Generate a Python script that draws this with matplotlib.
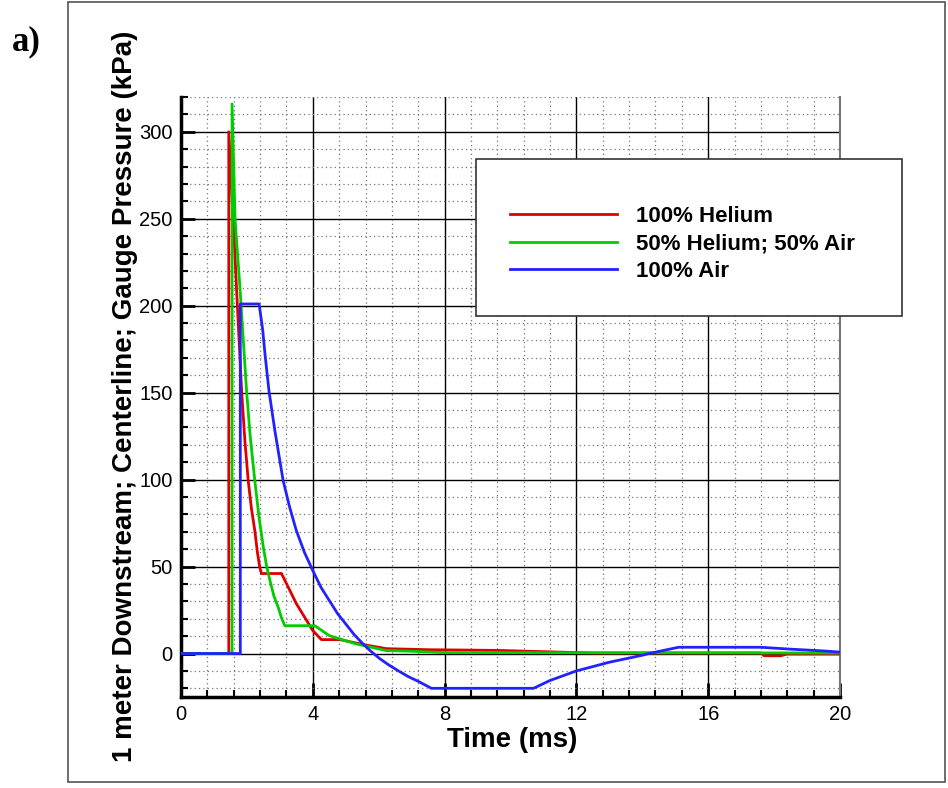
import numpy as np
import matplotlib
matplotlib.use('Agg')
import matplotlib.pyplot as plt
from matplotlib.patches import Rectangle
from matplotlib.ticker import MultipleLocator

# ---- data (time in ms, gauge pressure in kPa) ----
t_he = [0, 1.45, 1.45, 1.64, 1.69, 1.84, 1.94, 2.04, 2.14, 2.24, 2.32, 2.39, 2.44, 3.05,
        3.5, 4.0, 4.26, 4.82, 5.52, 6.23, 7.5, 9.6, 11.7, 12.5, 17.6, 17.7, 18.2, 18.4, 20]
p_he = [0, 0, 300, 228, 208, 151, 122, 99.4, 83, 70.7, 58, 49.6, 46, 46,
        28.7, 13.2, 8, 8, 5.2, 2.8, 2.2, 1.8, 0.7, 0.3, 0.3, -1.3, -1.3, -0.3, -0.3]

t_mix = [0, 1.55, 1.55, 1.64, 1.79, 1.99, 2.1, 2.24, 2.37, 2.5, 2.6, 2.7, 2.82, 2.95,
         3.05, 3.15, 4.06, 4.5, 5.3, 6.23, 7.0, 8.0, 20]
p_mix = [0, 0, 316, 250, 210, 151, 125, 99.4, 78, 61, 50, 42, 33, 26.6,
         20.5, 16, 16, 10.3, 5.6, 1.7, 1.3, 0.5, 0.3]

t_air = [0, 1.80, 1.80, 2.37, 2.48, 2.55, 2.67, 2.85, 3.1, 3.3, 3.5, 3.75, 4.0, 4.25,
         4.5, 4.75, 5.0, 5.25, 5.52, 5.75, 6.03, 6.3, 6.6, 6.9, 7.2, 7.6, 10.7, 11.2,
         12.0, 13.0, 14.0, 14.2, 15.1, 17.6, 18.5, 19.5, 20]
p_air = [0, 0, 201, 201, 186, 172, 151, 128, 99.4, 84, 70.7, 58, 47.7, 38,
         30.5, 23, 17, 11, 5.6, 1.5, -2.9, -6.5, -10, -13.3, -16, -20, -20, -15.5,
         -10, -5, -1, 0, 3.6, 3.6, 2.5, 1.5, 0.8]

labels = ['100% Helium', '50% Helium; 50% Air', '100% Air']
colors = ['#dd0000', '#00cc00', '#2222ff']

W, H = 948, 788
fig = plt.figure(figsize=(W/100, H/100), dpi=100)
ax = fig.add_axes([181/W, 1-697/H, (840-181)/W, (697-97)/H])

sans = 'Liberation Sans'
lines = []
for t, p, c in zip([t_he, t_mix, t_air], [p_he, p_mix, p_air], colors):
    l, = ax.plot(t, p, color=c, lw=2.0, zorder=3)
    lines.append(l)

ax.set_xlim(0, 20)
ax.set_ylim(-25, 320)
ax.xaxis.set_major_locator(MultipleLocator(4))
ax.xaxis.set_minor_locator(MultipleLocator(0.8))
ax.yaxis.set_major_locator(MultipleLocator(50))
ax.yaxis.set_minor_locator(MultipleLocator(10))

ax.grid(which='major', color='black', lw=1.0, ls='-')
ax.grid(which='minor', color='#777777', lw=0.9, ls=(0, (1, 2.5)))
ax.set_axisbelow(True)

ax.spines['top'].set_visible(False)
ax.spines['right'].set_color('#777777')
ax.spines['right'].set_linewidth(1.5)
for s in ['left', 'bottom']:
    ax.spines[s].set_linewidth(2.5)

ax.tick_params(which='major', direction='in', length=10, width=2, top=False, right=False,
               labelsize=14.5, pad=6)
ax.tick_params(which='minor', direction='in', length=5, width=1.5, top=False, right=False)
for lab in ax.get_xticklabels() + ax.get_yticklabels():
    lab.set_family(sans)

fig.text(512/W, 1-747/H, 'Time (ms)', ha='center', va='baseline',
         fontsize=20, fontweight='bold', family=sans)
fig.text(132/W, 1-396/H, '1 meter Downstream; Centerline; Gauge Pressure (kPa)',
         rotation=90, rotation_mode='anchor', ha='center', va='baseline',
         fontsize=20, fontweight='bold', family=sans)
fig.text(12/W, 1-42/H, 'a)', ha='left', va='center', fontsize=25,
         fontweight='bold', family='Liberation Serif')

# legend box (reaches past the right edge of the axes)
fig.add_artist(Rectangle((476/W, 1-316/H), 426/W, 157/H, transform=fig.transFigure,
                         facecolor='white', edgecolor='#333333', lw=1.2, zorder=3))
leg = fig.legend(lines, labels, loc='center left', bbox_to_anchor=(510/W, 1-244/H),
                 frameon=False, borderpad=0, borderaxespad=0, handlelength=4.8,
                 handletextpad=0.85, labelspacing=0.3,
                 prop={'family': sans, 'weight': 'bold', 'size': 16})
leg.set_zorder(5)

# outer frame
fig.add_artist(Rectangle((68/W, 1-782/H), (945-68)/W, (782-2)/H, transform=fig.transFigure,
                         fill=False, edgecolor='#555555', lw=1.2, zorder=1))

fig.savefig('out.png', dpi=100)
